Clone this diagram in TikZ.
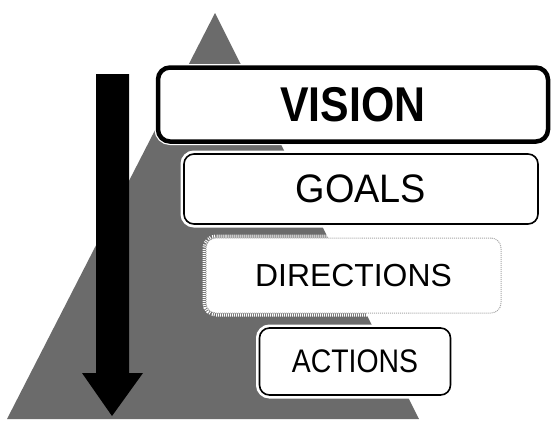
\documentclass[tikz,border=0pt]{standalone}
\usepackage{fontspec}
\setmainfont{Liberation Sans}
\usepackage{tikz}
\usetikzlibrary{positioning}

\begin{document}
\begin{tikzpicture}[x=1bp, y=-1bp]
    \tikzstyle{level}=[rounded corners=10bp, fill=white, inner sep=0pt,
            preaction={draw=white, line width=7bp}]
    \tikzstyle{top level}=[level, draw=black, line width=4.5bp,
            rounded corners=12bp]
    \tikzstyle{mid level}=[level, draw=black, line width=1.6bp]
    \tikzstyle{soft level}=[level, draw=black!35, densely dotted,
            line width=1bp]

        \useasboundingbox (0,0) rectangle (557,427);

        % pyramid behind the steps
        \fill[black!58] (215,13) -- (419,419) -- (7,419) -- cycle;

        % the top-down arrow
        \fill[black] (96,74) -- (129,74) -- (129,373) -- (143,373)
        -- (112,416) -- (82,373) -- (96,373) -- cycle;

        \node[top level, minimum width=390bp, minimum height=74bp]
        (vision) at (353,104.5)
        {\fontsize{43}{43}\selectfont\bfseries\scalebox{1}[1.14]{VISION}};

        \node[mid level, minimum width=354bp, minimum height=70bp]
        (goals) at (361,189)
        {\fontsize{38}{38}\selectfont\scalebox{1}[1.05]{GOALS}};

        \node[soft level, minimum width=295bp, minimum height=75bp]
        (directions) at (353.5,275.5)
        {\fontsize{32}{32}\selectfont DIRECTIONS};

        \node[mid level, minimum width=191bp, minimum height=67bp]
        (actions) at (355,361.5)
        {\fontsize{28.5}{28.5}\selectfont\scalebox{1}[1.15]{ACTIONS}};

    \end{tikzpicture}
\end{document}
